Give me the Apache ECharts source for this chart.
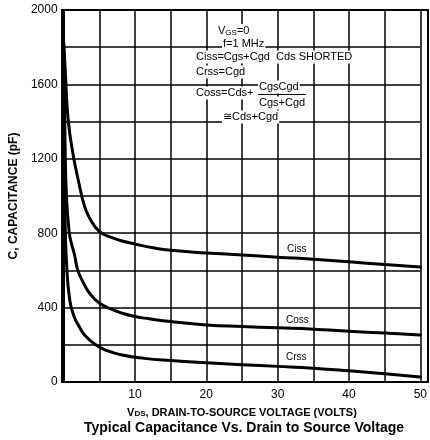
<!DOCTYPE html>
<html>
<head>
<meta charset="utf-8">
<script src="https://cdn.jsdelivr.net/npm/echarts@6/dist/echarts.min.js"></script>
<style>html,body{margin:0;padding:0;background:#fff;}#c{width:430px;height:440px;}</style>
</head>
<body>
<div id="c"></div>
<script>
// Data (V_DS in volts, capacitance in pF)
var cissData = [[0.05,1820],[0.3,1620],[0.64,1410],[1.3,1230],[2.2,1060],[2.9,950],[3.6,885],[5,810],[6.8,776],[8.2,758],[10,742],[12.5,722],[15,708],[20,694],[25,683],[30,671],[35,660],[40,646],[45,632],[50,618]];
var cossData = [[0.05,1700],[0.2,1300],[0.4,1000],[0.8,800],[1.1,745],[1.55,680],[2,600],[2.7,540],[3.6,480],[5,425],[6.8,390],[8.2,370],[10,352],[12,340],[15,325],[20,307],[25,298],[30,291],[35,284],[40,273],[45,263],[50,253]];
var crssData = [[0.05,1400],[0.2,900],[0.4,650],[0.86,441],[1.5,350],[2.2,297],[3,250],[4.5,200],[6,170],[8.2,145],[11.3,127],[15,115],[20,103],[25,93],[30,84],[35,74],[40,60],[45,44],[50,27]];
var seriesNames = ['Ciss','Coss','Crss'];
var xLabels = [10,20,30,40,50];
var yLabels = [0,400,800,1200,1600,2000];

var chart = echarts.init(document.getElementById('c'), null, {renderer:'canvas'});
var FONT = '"Liberation Sans", Arial, sans-serif';
function lineSeries(name, data){
  return {name:name, type:'line', data:data, showSymbol:false, smooth:true,
    lineStyle:{color:'#000', width:3, cap:'round', join:'round'}, z:3, clip:true};
}
function txt(x,y,content,size,extra){
  var s = {text:content, x:x, y:y, fill:'#000', font:(size||11)+'px '+FONT,
    backgroundColor:'#fff', padding:[1,1,1,1], verticalAlign:'middle'};
  if (extra) for (var k in extra) s[k]=extra[k];
  return {type:'text', z:10, style:s};
}
var option = {
  animation:false,
  backgroundColor:'#fff',
  grid:{left:62,right:2,top:10,bottom:58},
  xAxis:{type:'value', min:0, max:50, interval:5,
    axisLine:{show:true, onZero:false, lineStyle:{color:'#000', width:2}},
    axisTick:{show:false},
    axisLabel:{color:'#000', fontFamily:FONT, fontSize:12, margin:7,
      showMinLabel:true, showMaxLabel:true,
      formatter:function(v){ return xLabels.indexOf(v)>=0 ? String(v) : ''; }},
    splitLine:{show:true, lineStyle:{color:'#000', width:1.5}},
    name:'{v|V}{s|DS}{v|, DRAIN-TO-SOURCE VOLTAGE (VOLTS)}', nameLocation:'middle', nameGap:25,
    nameTextStyle:{rich:{
      v:{fontFamily:FONT, fontWeight:'bold', fontSize:11, color:'#000'},
      s:{fontFamily:FONT, fontWeight:'bold', fontSize:8, color:'#000', padding:[3,0,0,0]}
    }}
  },
  yAxis:{type:'value', min:0, max:2000, interval:200,
    axisLine:{show:true, lineStyle:{color:'#000', width:2}},
    axisTick:{show:false},
    axisLabel:{color:'#000', fontFamily:FONT, fontSize:12, margin:6,
      formatter:function(v){ return yLabels.indexOf(v)>=0 ? String(v) : ''; }},
    splitLine:{show:true, lineStyle:{color:'#000', width:1.5}},
    name:'C, CAPACITANCE (pF)', nameLocation:'middle', nameGap:41,
    nameTextStyle:{fontFamily:FONT, fontWeight:'bold', fontSize:12, color:'#000'}
  },
  series:[lineSeries(seriesNames[0],cissData), lineSeries(seriesNames[1],cossData), lineSeries(seriesNames[2],crssData)],
  graphic:[
    {type:'rect', z:5, shape:{x:62,y:10,width:366,height:372}, style:{fill:'none', stroke:'#000', lineWidth:2}},
    {type:'text', z:10, style:{x:217, y:31, verticalAlign:'middle', backgroundColor:'#fff', padding:[1,1,1,1],
      text:'{a|V}{b|GS}{a|=0}', rich:{a:{fontFamily:FONT, fontSize:11, fill:'#000'}, b:{fontFamily:FONT, fontSize:8, fill:'#000', padding:[4,0,0,0]}}}},
    txt(222,44,'f=1 MHz'),
    txt(195,57,'Ciss=Cgs+Cgd  Cds SHORTED'),
    txt(195,72,'Crss=Cgd'),
    txt(195,93,'Coss=Cds+'),
    txt(258,87,'CgsCgd'),
    {type:'rect', z:11, shape:{x:258,y:94,width:48,height:1}, style:{fill:'#000'}},
    {type:'rect', z:9, shape:{x:256,y:94,width:52,height:1}, style:{fill:'#fff'}},
    txt(258,103,'Cgs+Cgd'),
    txt(222,117,'\u2245Cds+Cgd'),
    txt(286,249,'Ciss',10),
    txt(285,320,'Coss',10),
    txt(285,357,'Crss',10),
    {type:'text', z:10, style:{x:244, y:428, text:'Typical Capacitance Vs. Drain to Source Voltage',
      align:'center', verticalAlign:'middle', fill:'#000', font:'bold 14px '+FONT}}
  ]
};
chart.setOption(option);
</script>
</body>
</html>
